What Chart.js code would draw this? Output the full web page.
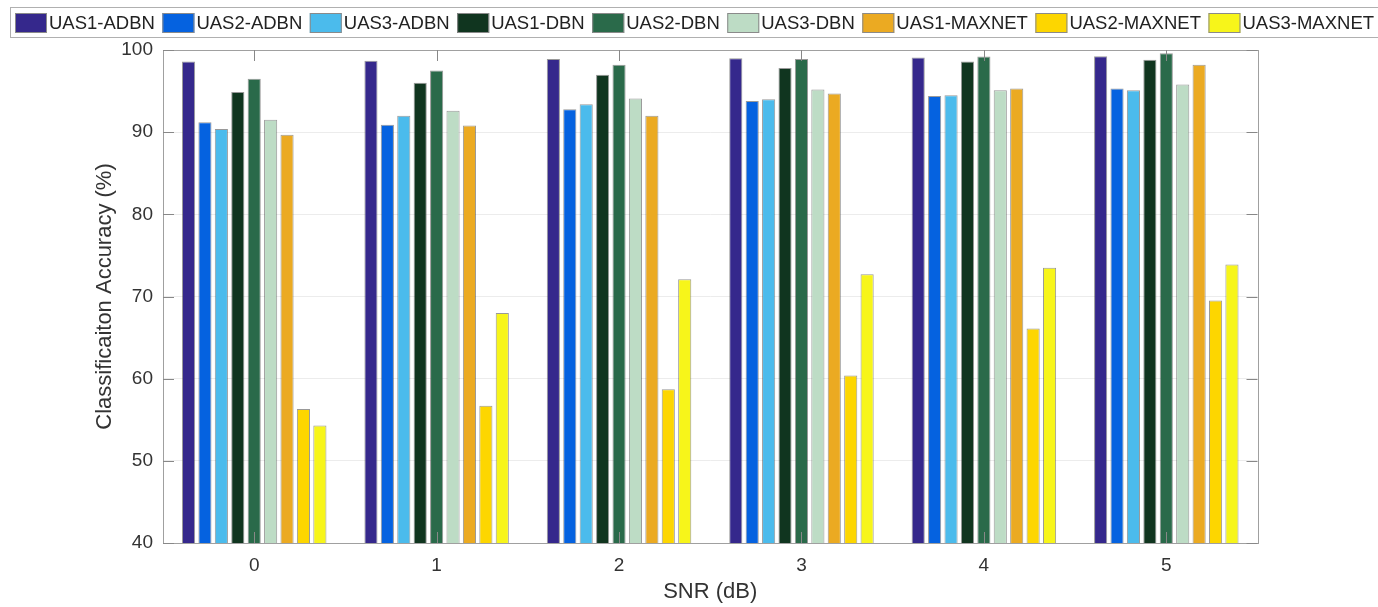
<!DOCTYPE html>
<html>
<head>
<meta charset="utf-8">
<script src="https://cdn.jsdelivr.net/npm/chart.js@4"></script>
<style>
  html, body { margin: 0; padding: 0; background: #fff; }
  #wrap { width: 1378px; height: 607px; }
</style>
</head>
<body>
<div id="wrap"><canvas id="snrchart"></canvas></div>
<script>
var snrLabels = ['0', '1', '2', '3', '4', '5'];
var seriesNames = ['UAS1-ADBN', 'UAS2-ADBN', 'UAS3-ADBN', 'UAS1-DBN', 'UAS2-DBN', 'UAS3-DBN', 'UAS1-MAXNET', 'UAS2-MAXNET', 'UAS3-MAXNET'];
var uas1Adbn   = [98.6, 98.7, 98.9, 99.0, 99.1, 99.25];
var uas2Adbn   = [91.2, 90.9, 92.8, 93.8, 94.4, 95.3];
var uas3Adbn   = [90.4, 92.0, 93.4, 94.0, 94.5, 95.1];
var uas1Dbn    = [94.9, 96.0, 97.0, 97.8, 98.6, 98.8];
var uas2Dbn    = [96.5, 97.5, 98.2, 98.9, 99.2, 99.6];
var uas3Dbn    = [91.5, 92.6, 94.1, 95.2, 95.1, 95.8];
var uas1Maxnet = [89.7, 90.8, 92.0, 94.7, 95.3, 98.2];
var uas2Maxnet = [56.3, 56.7, 58.7, 60.4, 66.1, 69.5];
var uas3Maxnet = [54.3, 68.0, 72.1, 72.7, 73.5, 73.9];
var yTicks = [40, 50, 60, 70, 80, 90, 100];

var seriesValues = [uas1Adbn, uas2Adbn, uas3Adbn, uas1Dbn, uas2Dbn, uas3Dbn, uas1Maxnet, uas2Maxnet, uas3Maxnet];
var seriesColors = ['#35288c', '#0562e0', '#4bbbec', '#10351f', '#2a6a4a', '#bddcc5', '#ebaa22', '#fdd600', '#f7f51a'];

Chart.defaults.font.family = '"Liberation Sans", Arial, Helvetica, sans-serif';
Chart.defaults.color = '#333';

// MATLAB style box with inward ticks
var boxPlugin = {
  id: 'boxPlugin',
  afterDraw: function (chart) {
    var ctx = chart.ctx, a = chart.chartArea;
    var xs = chart.scales.x, ys = chart.scales.y;
    ctx.save();
    ctx.strokeStyle = '#a0a0a0';
    ctx.lineWidth = 1;
    ctx.strokeRect(Math.round(a.left) + 0.5, Math.round(a.top) + 0.5, Math.round(a.right - a.left), Math.round(a.bottom - a.top));
    ctx.strokeStyle = '#888';
    ctx.beginPath();
    snrLabels.forEach(function (l, i) {
      var px = Math.round(xs.getPixelForValue(i)) + 0.5;
      ctx.moveTo(px, a.top); ctx.lineTo(px, a.top + 11);
      ctx.moveTo(px, a.bottom); ctx.lineTo(px, a.bottom - 11);
    });
    yTicks.forEach(function (v) {
      var py = Math.round(ys.getPixelForValue(v)) + 0.5;
      ctx.moveTo(a.left, py); ctx.lineTo(a.left + 11, py);
      ctx.moveTo(a.right, py); ctx.lineTo(a.right - 11, py);
    });
    ctx.stroke();
    ctx.restore();
  }
};

// framed legend along the top, as in the figure
var legendPlugin = {
  id: 'legendPlugin',
  afterDraw: function (chart) {
    var ctx = chart.ctx;
    ctx.save();
    ctx.strokeStyle = '#b0b0b0';
    ctx.lineWidth = 1;
    ctx.strokeRect(10.5, 7.5, 1400, 30);
    ctx.font = '18.5px "Liberation Sans", Arial, sans-serif';
    ctx.textBaseline = 'middle';
    var x = 15;
    chart.data.datasets.forEach(function (ds) {
      ctx.fillStyle = ds.backgroundColor;
      ctx.fillRect(x, 13, 32, 20);
      ctx.strokeStyle = '#8a8a8a';
      ctx.strokeRect(x + 0.5, 13.5, 31, 19);
      ctx.fillStyle = '#222';
      ctx.fillText(ds.label, x + 34, 23.5);
      x += 34 + ctx.measureText(ds.label).width + 7.5;
    });
    ctx.restore();
  }
};

var ctx = document.getElementById('snrchart').getContext('2d');

var chart = new Chart(ctx, {
  type: 'bar',
  data: {
    labels: snrLabels,
    datasets: seriesNames.map(function (name, i) {
      return {
        label: name,
        data: seriesValues[i],
        backgroundColor: seriesColors[i],
        borderColor: 'rgba(70,70,70,0.55)',
        borderWidth: 1,
        categoryPercentage: 0.81,
        barPercentage: 0.8
      };
    })
  },
  options: {
    responsive: true,
    maintainAspectRatio: false,
    animation: false,
    layout: { padding: { left: 88, right: 120.5, top: 50, bottom: 0 } },
    plugins: {
      legend: { display: false },
      tooltip: { enabled: false }
    },
    scales: {
      x: {
        grid: { display: false, drawTicks: false },
        border: { display: false },
        ticks: { font: { size: 19 }, color: '#333', padding: 11 },
        title: { display: true, text: 'SNR (dB)', font: { size: 22 }, color: '#333', padding: { top: 2, bottom: 2 } },
        afterFit: function (s) { s.height = 64; }
      },
      y: {
        min: 40,
        max: 100,
        afterBuildTicks: function (s) { s.ticks = yTicks.map(function (v) { return { value: v }; }); },
        grid: { color: '#ececec', drawTicks: false },
        border: { display: false },
        ticks: { font: { size: 19 }, color: '#333', padding: 10 },
        title: { display: true, text: 'Classificaiton Accuracy (%)', font: { size: 22 }, color: '#333', padding: { top: 4, bottom: 0 } },
        afterFit: function (s) { s.width = 75; }
      }
    }
  },
  plugins: [boxPlugin, legendPlugin]
});
</script>
</body>
</html>
